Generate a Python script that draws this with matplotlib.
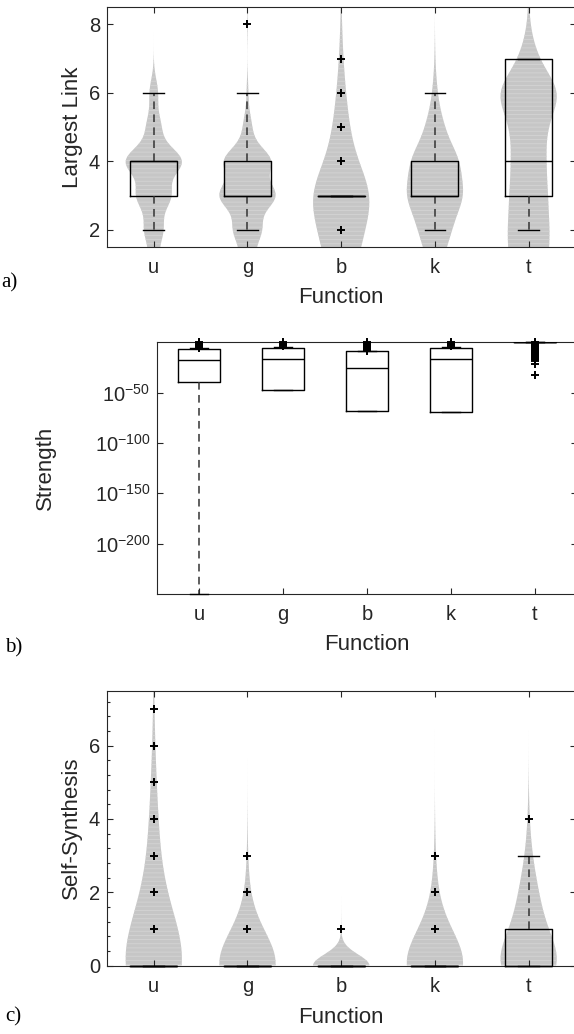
import numpy as np
import matplotlib
matplotlib.use('Agg')
import matplotlib.pyplot as plt
from matplotlib.ticker import FixedLocator, MultipleLocator, NullLocator

plt.rcParams['font.family'] = ['Liberation Sans', 'DejaVu Sans']
plt.rcParams['mathtext.default'] = 'regular'
plt.rcParams['hatch.linewidth'] = 0.6

functions = ['u', 'g', 'b', 'k', 't']
positions = [1, 2, 3, 4, 5]

# ===============================================
# DATA: a) Largest Link
# ===============================================
link_values = [1, 2, 3, 4, 5, 6, 7, 8]
link_counts = [
    [20, 33, 60, 100, 25, 15, 0, 0],   # u
    [30, 50, 100, 85, 15, 3, 0, 1],    # g
    [50, 55, 100, 35, 22, 12, 5, 2],   # b
    [25, 55, 100, 85, 30, 8, 1, 0],    # k
    [60, 60, 55, 50, 50, 100, 25, 3],  # t
]
link_bw = [0.4, 0.4, 0.8, 0.55, 0.6]
link_q1 = [3, 3, 3, 3, 3]
link_med = [4, 3, 3, 3, 4]
link_q3 = [4, 4, 3, 4, 7]
link_wlo = [2, 2, 3, 2, 2]
link_whi = [6, 6, 3, 6, 7]
link_fliers = [[], [8], [2, 4, 5, 6, 7], [], []]

# ===============================================
# DATA: b) Strength (log10 values)
# ===============================================
strength_q1 = [-39.5, -47.7, -68.6, -68.9, 0]
strength_med = [-17.2, -16.6, -25.5, -16.9, 0]
strength_q3 = [-6.7, -5.3, -8.2, -5.7, 0]
strength_wlo = [-250, -47.7, -68.6, -68.9, 0]
strength_whi = [-6.0, -4.8, -8.2, -5.0, 0]
strength_fliers = [
    [0, -1, -2, -3, -4, -5, -6],
    [0, -1, -2, -3, -4],
    [0, -1, -2, -3, -4, -5, -6, -7, -8, -9],
    [0, -1, -2, -3, -4],
    [0, -1, -2, -3, -4, -5, -6, -7, -8, -9, -10, -11, -12, -13, -14, -15,
     -16, -17, -18, -19, -22, -32],
]
strength_ticks = [-200, -150, -100, -50]

# ===============================================
# DATA: c) Self-Synthesis
# ===============================================
synth_values = [0, 1, 2, 3, 4, 5, 6, 7]
synth_counts = [
    [300, 40, 30, 25, 18, 10, 4, 2],   # u
    [300, 30, 10, 2, 0, 0, 0, 0],      # g
    [300, 1, 0, 0, 0, 0, 0, 0],        # b
    [300, 40, 15, 3, 0, 0, 0, 0],      # k
    [100, 40, 25, 8, 2, 0, 0, 0],      # t
]
synth_bw = [1.3, 0.85, 0.3, 0.85, 0.7]
synth_q1 = [0, 0, 0, 0, 0]
synth_med = [0, 0, 0, 0, 0]
synth_q3 = [0, 0, 0, 0, 1]
synth_wlo = [0, 0, 0, 0, 0]
synth_whi = [0, 0, 0, 0, 3]
synth_fliers = [[1, 2, 3, 4, 5, 6, 7], [1, 2, 3], [1], [1, 2, 3], [4]]

TXT = '#262626'
VIOLIN_FACE = '#c6c6c6'
VIOLIN_HATCH = '#d4d4d4'


def violin_halfwidth(values, counts, bw, grid):
    values = np.asarray(values, float)
    counts = np.asarray(counts, float)
    dens = (counts[:, None] * np.exp(-0.5 * ((grid[None, :] - values[:, None]) / bw) ** 2)).sum(axis=0)
    return 0.3 * dens / dens.max()


def make_stats(q1, med, q3, wlo, whi, fliers, conv=lambda v: v):
    stats = []
    for i in range(len(q1)):
        stats.append({'q1': conv(q1[i]), 'med': conv(med[i]), 'q3': conv(q3[i]),
                      'whislo': conv(wlo[i]), 'whishi': conv(whi[i]),
                      'fliers': np.array([conv(f) for f in fliers[i]], float)})
    return stats


def draw_boxes(ax, stats):
    res = ax.bxp(stats, positions=positions, widths=0.5, capwidths=0.22,
                 boxprops=dict(color='black', linewidth=1.0),
                 whiskerprops=dict(color='#333333', linewidth=1.1, linestyle=(0, (5, 3.5))),
                 capprops=dict(color='black', linewidth=1.0),
                 medianprops=dict(color='black', linewidth=1.0),
                 flierprops=dict(marker='+', markersize=5.5, markeredgecolor='black',
                                 markeredgewidth=1.4, linestyle='none'),
                 manage_ticks=False, zorder=3)
    for fl in res['fliers']:
        fl.set_clip_on(False)
    return res


def style_axes(ax):
    for s in ax.spines.values():
        s.set_color(TXT)
        s.set_linewidth(0.8)
    ax.tick_params(which='both', direction='in', top=True, right=True,
                   color=TXT, labelcolor=TXT, width=0.8)
    ax.tick_params(which='major', length=4, labelsize=14.5)
    ax.tick_params(axis='x', pad=8)
    ax.tick_params(axis='y', pad=5)
    ax.set_xticks(positions)
    ax.set_xticklabels(functions)
    ax.set_xlim(0.5, 5.5)


W, H = 574, 1034
fig = plt.figure(figsize=(W / 100, H / 100), dpi=100)


def add_axes_px(left, right, top, bottom):
    return fig.add_axes([left / W, 1 - bottom / H, (right - left) / W, (bottom - top) / H])


# ---------------- a) ----------------
ax_a = add_axes_px(106.9, 575.5, 7.3, 247)
grid_a = np.linspace(1.5, 8.5, 500)
for i, pos in enumerate(positions):
    hw = violin_halfwidth(link_values, link_counts[i], link_bw[i], grid_a)
    ax_a.fill_betweenx(grid_a, pos - hw, pos + hw, facecolor=VIOLIN_FACE,
                       edgecolor=VIOLIN_HATCH, linewidth=0, hatch='----', zorder=1)
draw_boxes(ax_a, make_stats(link_q1, link_med, link_q3, link_wlo, link_whi, link_fliers))
style_axes(ax_a)
ax_a.set_ylim(1.5, 8.5)
ax_a.set_yticks([2, 4, 6, 8])
ax_a.set_ylabel('Largest Link', fontsize=16, color=TXT)
ax_a.set_xlabel('Function', fontsize=16, color=TXT)

# ---------------- b) ----------------
ax_b = add_axes_px(157.3, 576.7, 342.3, 594)
ax_b.set_yscale('log')
res_b = draw_boxes(ax_b, make_stats(strength_q1, strength_med, strength_q3, strength_wlo,
                                    strength_whi, strength_fliers, conv=lambda v: 10.0 ** v))
for ln in res_b['caps']:
    ln.set_clip_on(False)
style_axes(ax_b)
ax_b.set_ylim(1e-250, 1e0)
ax_b.yaxis.set_major_locator(FixedLocator([10.0 ** e for e in strength_ticks]))
ax_b.yaxis.set_minor_locator(NullLocator())
ax_b.set_yticklabels([r'$10^{%d}$' % e for e in strength_ticks])
ax_b.set_ylabel('Strength', fontsize=16, color=TXT)
ax_b.set_xlabel('Function', fontsize=16, color=TXT)

# ---------------- c) ----------------
ax_c = add_axes_px(106.9, 575.5, 690.7, 965.5)
grid_c = np.linspace(0, 7.5, 500)
for i, pos in enumerate(positions):
    hw = violin_halfwidth(synth_values, synth_counts[i], synth_bw[i], grid_c)
    ax_c.fill_betweenx(grid_c, pos - hw, pos + hw, facecolor=VIOLIN_FACE,
                       edgecolor=VIOLIN_HATCH, linewidth=0, hatch='----', zorder=1)
res_c = draw_boxes(ax_c, make_stats(synth_q1, synth_med, synth_q3, synth_wlo, synth_whi, synth_fliers))
for key in ('boxes', 'medians', 'whiskers', 'caps'):
    for ln in res_c[key]:
        ln.set_clip_on(False)
style_axes(ax_c)
ax_c.set_ylim(0, 7.5)
ax_c.set_yticks([0, 2, 4, 6])
ax_c.yaxis.set_minor_locator(MultipleLocator(0.4))
ax_c.xaxis.set_minor_locator(NullLocator())
ax_c.tick_params(which='minor', length=2.5)
ax_c.tick_params(axis='y', which='minor', right=False)
ax_c.set_ylabel('Self-Synthesis', fontsize=16, color=TXT)
ax_c.set_xlabel('Function', fontsize=16, color=TXT)

# label positions (axes fraction)
for ax, xl_y, yl_x in ((ax_a, -0.212, -0.0735), (ax_b, -0.2, -0.266), (ax_c, -0.191, -0.0758)):
    ax.xaxis.set_label_coords(0.5, xl_y)
    ax.xaxis.label.set_verticalalignment('center')
    ax.yaxis.set_label_coords(yl_x, 0.5)
    ax.yaxis.label.set_verticalalignment('center')

# panel letters
for txt, x, y in (('a)', 1, 283), ('b)', 5, 648), ('c)', 5, 1017)):
    fig.text(x / W, 1 - y / H, txt, family=['Liberation Serif', 'DejaVu Serif'],
             fontsize=15, ha='left', va='center', color='black')

fig.savefig('out.png', dpi=100)
plt.close(fig)
